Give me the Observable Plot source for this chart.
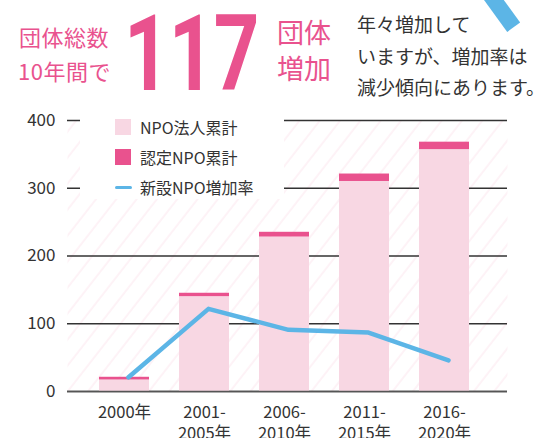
<!DOCTYPE html>
<html>
<head>
<meta charset="utf-8">
<script src="https://cdn.jsdelivr.net/npm/d3@7"></script>
<script src="https://cdn.jsdelivr.net/npm/@observablehq/plot@0.6"></script>
<style>
  html, body { margin: 0; padding: 0; background: #fff; }
  body { width: 549px; height: 438px; position: relative; overflow: hidden;
         font-family: "Noto Sans CJK JP", "Noto Sans", sans-serif; color: #333; }
  .abs { position: absolute; white-space: nowrap; }
  .pink { color: #e9528e; }
  #chart { position: absolute; left: 0; top: 100px; }
  #legend { position: absolute; left: 80px; top: 109px; width: 204px; height: 90px; background: #fff; }
  .li { position: absolute; left: 35px; font-size: 16px; line-height: 16px; color: #333; }
  .sw { position: absolute; left: 35px; width: 16px; height: 16px; }
</style>
</head>
<body>
<svg width="0" height="0" style="position:absolute">
  <defs>
    <pattern id="hatch" width="16" height="16" patternUnits="userSpaceOnUse" patternTransform="rotate(38)">
      <line x1="8" y1="-1" x2="8" y2="17" stroke="#fce6ee" stroke-width="1"/>
    </pattern>
  </defs>
</svg>

<div class="abs pink" style="left:19px;top:21px;font-size:22px;line-height:30px;letter-spacing:0.5px">団体総数</div>
<div class="abs pink" style="left:18px;top:55px;font-size:22px;line-height:30px;letter-spacing:0.5px">10年間で</div>
<div class="abs pink" id="big" style="left:124px;top:-6px;font-family:Roboto, sans-serif;font-weight:700;font-size:106px;line-height:120px;transform:scaleX(0.75);transform-origin:0 0;letter-spacing:-1px">117</div>
<div class="abs pink" style="left:277px;top:15px;font-size:27px;line-height:34px">団体</div>
<div class="abs pink" style="left:277px;top:51px;font-size:27px;line-height:34px">増加</div>
<div class="abs" style="left:357px;top:8px;font-size:19px;line-height:31.5px;color:#333">年々増加して<br>いますが、増加率は<br>減少傾向にあります。</div>
<div class="abs" style="left:491px;top:-18px;width:16px;height:50px;background:#5cb5e6;transform:rotate(-36deg)"></div>

<div id="chart"></div>
<div id="legend"></div>

<script>
// ---- data ----
const categories = ["2000年", "2001-\n2005年", "2006-\n2010年", "2011-\n2015年", "2016-\n2020年"];
const npoTotal = [17, 140, 228, 310, 357];       // NPO法人累計
const ninteiTotal = [4, 5, 7, 11, 11];           // 認定NPO累計
const growthRate = [21, 122, 91, 87, 46];        // 新設NPO増加率
const seriesNames = ["NPO法人累計", "認定NPO累計", "新設NPO増加率"];
const yTicks = [0, 100, 200, 300, 400];
const colors = ["#f8d7e3", "#e9528e", "#5cb5e6"];

const stacked = [];
categories.forEach((c, i) => {
  stacked.push({cat: c, series: seriesNames[0], value: npoTotal[i]});
  stacked.push({cat: c, series: seriesNames[1], value: ninteiTotal[i]});
});
const lineData = categories.map((c, i) => ({cat: c, rate: growthRate[i]}));

const chart = Plot.plot({
  width: 549,
  height: 338,
  marginTop: 20,
  marginBottom: 47,
  marginLeft: 67,
  marginRight: 42,
  style: {fontFamily: '"Noto Sans CJK JP", sans-serif', color: "#333", background: "transparent"},
  x: {type: "band", domain: categories, paddingInner: 0.37, paddingOuter: 0.405, align: 0.457, label: null},
  y: {domain: [0, 400], label: null},
  color: {domain: seriesNames.slice(0, 2), range: colors.slice(0, 2)},
  marks: [
    Plot.frame({fill: "url(#hatch)", stroke: null}),
    Plot.gridY(yTicks, {stroke: "#333", strokeOpacity: 1, strokeWidth: 1.3}),
    Plot.barY(stacked, {x: "cat", y: "value", fill: "series", order: seriesNames.slice(0, 2)}),
    Plot.ruleY([0], {stroke: "#555", strokeWidth: 1.5}),
    Plot.line(lineData, {x: "cat", y: "rate", stroke: colors[2], strokeWidth: 4.5, strokeLinecap: "round", strokeLinejoin: "round", dx: 4}),
    Plot.axisY(yTicks, {tickSize: 0, tickPadding: 12, fontSize: 17, label: null}),
    Plot.axisX({tickSize: 0, tickPadding: 11, fontSize: 16.5, lineHeight: 1.3, label: null})
  ]
});
document.getElementById("chart").appendChild(chart);

// legend
const legend = document.getElementById("legend");
const tops = [10, 40, 70];
seriesNames.forEach((name, i) => {
  const sw = document.createElement("div");
  sw.className = "sw";
  if (i < 2) {
    sw.style.top = tops[i] + "px";
    sw.style.background = colors[i];
  } else {
    sw.style.top = (tops[i] + 6.5) + "px";
    sw.style.height = "3.5px";
    sw.style.width = "17px";
    sw.style.borderRadius = "2px";
    sw.style.background = colors[i];
  }
  legend.appendChild(sw);
  const t = document.createElement("div");
  t.className = "li";
  t.style.left = "60px";
  t.style.top = tops[i] + "px";
  t.textContent = name;
  legend.appendChild(t);
});
</script>
</body>
</html>
